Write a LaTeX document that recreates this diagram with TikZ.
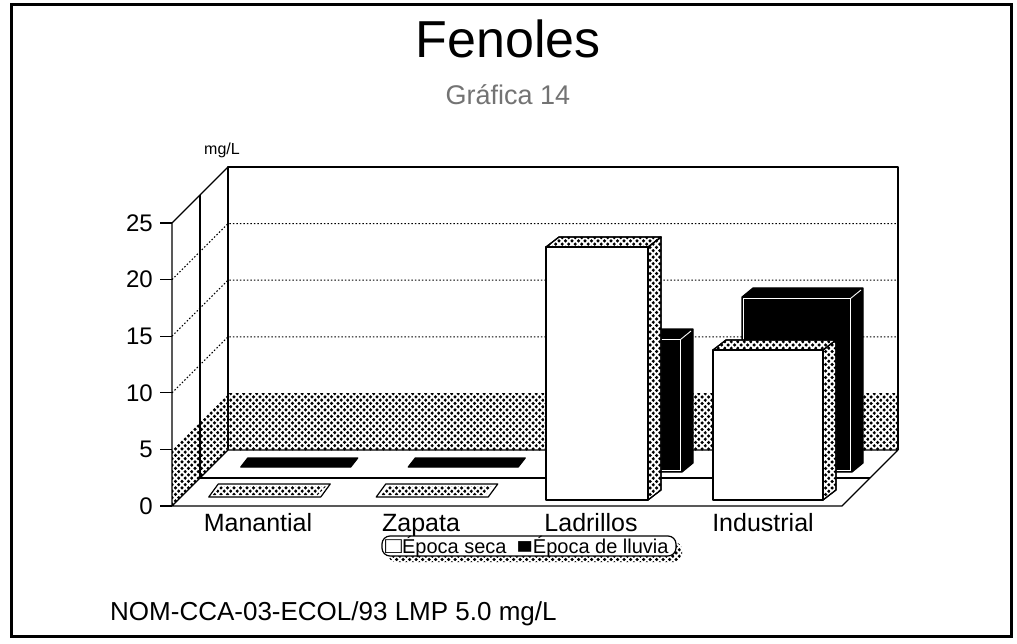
\documentclass[tikz,border=0pt]{standalone}
\usepackage{fontspec}
\usepackage{graphicx}
\setmainfont{Liberation Sans}
\usetikzlibrary{patterns}
\pgfdeclarepatternformonly{stip}{\pgfqpoint{-2pt}{-2pt}}{\pgfqpoint{4.5pt}{4.5pt}}{\pgfqpoint{6.5pt}{6.5pt}}{%
  \pgfpathcircle{\pgfqpoint{0pt}{0pt}}{1.75pt}%
  \pgfpathcircle{\pgfqpoint{3.25pt}{3.25pt}}{1.75pt}%
  \pgfusepath{fill}}
\newcommand{\fsz}[1]{\fontsize{#1}{#1}\selectfont}
% seca bar: #1 xl, #2 xr, #3 ybot, #4 ytop
\newcommand{\secabar}[4]{%
  \filldraw[fill=white, ax] (#2,#3) -- (#2+13,#3-10) -- (#2+13,#4-10) -- (#2,#4) -- cycle;
  \filldraw[pattern=stip, ax] (#2,#3) -- (#2+13,#3-10) -- (#2+13,#4-10) -- (#2,#4) -- cycle;
  \filldraw[fill=white, ax] (#1,#4) -- (#2,#4) -- (#2+13,#4-10) -- (#1+13,#4-10) -- cycle;
  \filldraw[pattern=stip, ax] (#1,#4) -- (#2,#4) -- (#2+13,#4-10) -- (#1+13,#4-10) -- cycle;
  \filldraw[fill=white, ax] (#1,#3) rectangle (#2,#4);}
% lluvia bar
\newcommand{\lluviabar}[4]{%
  \filldraw[fill=black, ax] (#1,#3) -- (#2,#3) -- (#2+11,#3-9) -- (#2+11,#4-9) -- (#1+11,#4-9) -- (#1,#4) -- cycle;
  \draw[white, line width=0.9pt] (#1+1.5,#3-1.5) rectangle (#2-1.5,#4+1.5);
  \draw[white, line width=0.9pt] (#2-1.5,#4+1.5) -- (#2+9,#4-7);}
\begin{document}
\begin{tikzpicture}[x=1pt,y=-1pt,
  ax/.style={line width=1.2pt, line join=round},
  gridline/.style={line width=1pt, dash pattern=on 1.5pt off 2pt},
  ticklbl/.style={inner sep=0pt, anchor=east, font=\fsz{24}},
  catlbl/.style={inner sep=0pt, anchor=base, font=\fsz{25}}]
\useasboundingbox (0,0) rectangle (1017,644);
\fill[white] (0,0) rectangle (1017,644);
\draw[line width=3pt] (11,5) rectangle (1011,636);

% titles
\node[inner sep=0pt, anchor=base, font=\fsz{52}] (title) at (508,58) {Fenoles};
\node[inner sep=0pt, anchor=base, font=\fsz{27}, text=black!55] (sub) at (508,105) {Gráfica 14};
\node[inner sep=0pt, font=\fsz{16}] (unit) at (222,150) {mg/L};

% coordinates of the box
\coordinate (FL0) at (172,506);
\coordinate (FR0) at (842,506);
\coordinate (BL0) at (228,450);
\coordinate (BR0) at (898,450);
\coordinate (BLT) at (228,167);
\coordinate (BRT) at (898,167);
\coordinate (FLT) at (172,223);
\coordinate (ML0) at (200,478);
\coordinate (MR0) at (870,478);
\coordinate (MLT) at (200,195);

% limit band (5 mg/L)
\fill[pattern=stip] (228,393.4) rectangle (898,450);
\fill[pattern=stip] (172,449.4) -- (228,393.4) -- (228,450) -- (172,506) -- cycle;

% grid lines
\foreach \v in {10,15,20} {
  \draw[gridline] (172,506-11.32*\v) -- (228,450-11.32*\v) -- (898,450-11.32*\v);
}

% walls and floor
\draw[ax] (BL0) -- (BLT) -- (BRT) -- (BR0);
\draw[ax] (FL0) -- (FLT) -- (BLT);
\draw[ax] (MLT) -- (ML0) -- (MR0);
\draw[ax] (FL0) -- (FR0) -- (BR0) -- (BL0) -- cycle;

% ticks and labels
\foreach \v in {0,5,10,15,20,25} {
  \draw[ax] (160,506-11.32*\v) -- (172,506-11.32*\v);
  \node[ticklbl] (t\v) at (153,506-11.32*\v) {\v};
}

% flat bars (Manantial, Zapata)
\foreach \c in {264.75,432.25} {
  \filldraw[fill=black, ax] (\c+31-55,467) -- (\c+31+55,467) -- (\c+31+62,458) -- (\c+31-48,458) -- cycle;
  \filldraw[fill=white, ax] (\c-56,497) -- (\c+56,497) -- (\c+65.5,484) -- (\c-46.5,484) -- cycle;
  \fill[pattern=stip] (\c-52,495) -- (\c+53,495) -- (\c+61.5,486) -- (\c-43.5,486) -- cycle;
}

% 3D bars
\lluviabar{578}{682}{472}{338}
\lluviabar{742}{852}{472}{297}
\secabar{546}{648}{500}{247}
\secabar{713}{823}{500}{350}

% category labels
\node[catlbl] (c1) at (258,531) {Manantial};
\node[catlbl] (c2) at (421,531) {Zapata};
\node[catlbl] (c3) at (591,531) {Ladrillos};
\node[catlbl] (c4) at (763,531) {Industrial};

% legend
\fill[pattern=stip, rounded corners=8pt] (388,542) rectangle (682,562);
\filldraw[fill=white, ax, rounded corners=8pt] (382,536) rectangle (676,556);
\node[inner sep=0pt, anchor=base west, font=\fsz{20}] (leg) at (385,553) {\scalebox{1.4}[1.15]{□}Época seca\enspace\scalebox{1.35}[1.1]{■}Época de lluvia};

% footnote
\node[inner sep=0pt, anchor=base west, font=\fsz{26}] (nom) at (110,620) {NOM-CCA-03-ECOL/93 LMP 5.0 mg/L};
\end{tikzpicture}
\end{document}
